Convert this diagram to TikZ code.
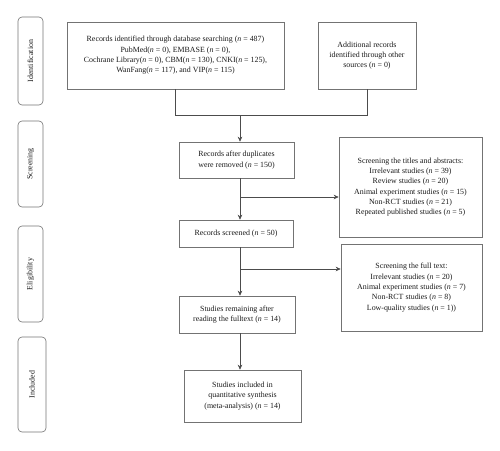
\documentclass[tikz,border=0pt]{standalone}
\usepackage{fontspec}
\setmainfont{Liberation Serif}
\usetikzlibrary{arrows.meta}
\newcommand{\nn}{\textit{n}}
\begin{document}
\begin{tikzpicture}[x=1pt,y=-1pt,
  box/.style={draw=black!55, line width=0.6pt, align=center, inner sep=1pt, font=\fontsize{7.9}{10.3}\selectfont, text=black!90},
  side/.style={draw=black!55, line width=0.6pt, rounded corners=4pt},
  sidetext/.style={rotate=90, font=\fontsize{7.9}{9}\selectfont, text=black!90},
  conn/.style={draw=black!70, line width=0.6pt},
  arr/.style={conn, -{Stealth[length=5pt,width=4.5pt]}}]
\useasboundingbox (0,0) rectangle (500,450);
% side labels
\node[side, minimum width=25, minimum height=88] (sid) at (30.5,61) {};
\node[sidetext] (sidt) at (sid.center) {Identification};
\node[side, minimum width=25, minimum height=86] (sscr) at (30.5,164) {};
\node[sidetext] (sscrt) at (sscr.center) {Screening};
\node[side, minimum width=25, minimum height=96] (sel) at (30.5,274) {};
\node[sidetext] (selt) at (sel.center) {Eligibility};
\node[side, minimum width=28, minimum height=95] (sinc) at (32,384.5) {};
\node[sidetext] (sinct) at (sinc.center) {Included};
% main boxes
\node[box, minimum width=217, minimum height=67] (b1) at (175.5,55.5) {Records identified through database searching (\nn{} = 487)\\PubMed(\nn{} = 0), EMBASE (\nn{} = 0),\\Cochrane Library(\nn{} = 0), CBM(\nn{} = 130), CNKI(\nn{} = 125),\\WanFang(\nn{} = 117), and VIP(\nn{} = 115)};
\node[box, minimum width=98, minimum height=67] (b2) at (367,55.5) {Additional records\\identified through other\\sources (\nn{} = 0)};
\node[box, minimum width=115, minimum height=36] (b3) at (236.5,160) {Records after duplicates\\were removed (\nn{} = 150)};
\node[box, minimum width=114, minimum height=27] (b4) at (236,233.5) {Records screened (\nn{} = 50)};
\node[box, minimum width=116, minimum height=37] (b5) at (237,314.5) {Studies remaining after\\reading the fulltext (\nn{} = 14)};
\node[box, minimum width=117, minimum height=52] (b6) at (242.5,396) {Studies included in\\quantitative synthesis\\(meta-analysis) (\nn{} = 14)};
\node[box, minimum width=143, minimum height=100] (ra) at (410.5,187) {Screening the titles and abstracts:\\Irrelevant studies (\nn{} = 39)\\Review studies (\nn{} = 20)\\Animal experiment studies (\nn{} = 15)\\Non-RCT studies (\nn{} = 21)\\Repeated published studies (\nn{} = 5)};
\node[box, minimum width=141, minimum height=87] (rb) at (411.5,287.5) {Screening the full text:\\Irrelevant studies (\nn{} = 20)\\Animal experiment studies (\nn{} = 7)\\Non-RCT studies (\nn{} = 8)\\Low-quality studies (\nn{} = 1))};
% connectors
\coordinate (jm) at (240,115);
\coordinate (k1) at (240,197);
\coordinate (k2) at (240,269);
\draw[conn] (b1.south) -- (b1.south |- jm) -- (b2.south |- jm) -- (b2.south);
\draw[arr] (jm) -- (jm |- b3.north);
\draw[arr] (jm |- b3.south) -- (jm |- b4.north);
\draw[arr] (k1) -- (k1 -| ra.west);
\draw[arr] (jm |- b4.south) -- (jm |- b5.north);
\draw[arr] (k2) -- (k2 -| rb.west);
\draw[arr] (jm |- b5.south) -- (jm |- b6.north);
\end{tikzpicture}
\end{document}
